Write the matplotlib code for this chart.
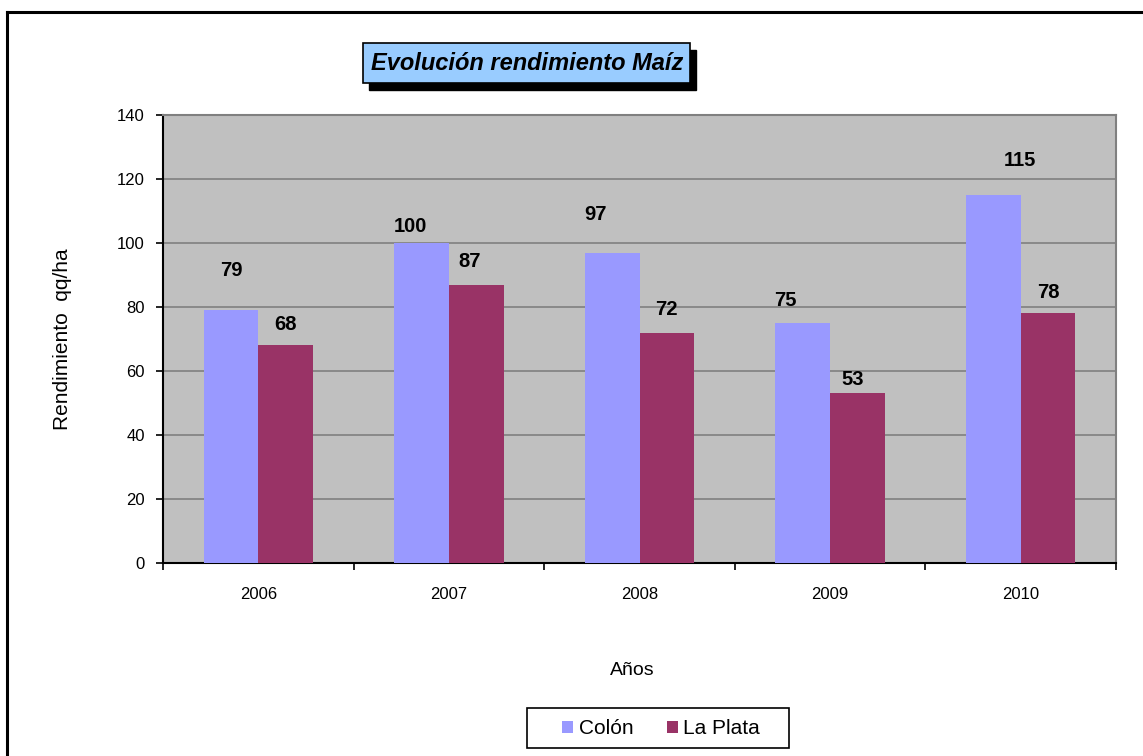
"""Evolución rendimiento Maíz - Colón vs La Plata"""

import numpy as np
import matplotlib
matplotlib.use("Agg")
import matplotlib.pyplot as plt
from matplotlib.patches import Rectangle
from matplotlib.lines import Line2D

# Data
years = ["2006", "2007", "2008", "2009", "2010"]
colon = [79, 100, 97, 75, 115]
la_plata = [68, 87, 72, 53, 78]

# Label offsets (pixels) as placed in the original chart
colon_lbl = [(0, 40), (-11, 17), (-17, 38), (-17, 23), (27, 34)]
plata_lbl = [(0, 21), (-7, 23), (0, 23), (-5, 14), (0, 21)]

plt.rcParams["font.family"] = ["Liberation Sans", "DejaVu Sans"]

W, H = 1143, 756
fig = plt.figure(figsize=(W / 100, H / 100), dpi=100)
fig.patch.set_facecolor("white")

# outer frame (goes off the right / bottom edge)
fig.add_artist(Line2D([7 / W, 7 / W], [-0.1, 1 - 12 / H], color="black", lw=2.2))
fig.add_artist(Line2D([7 / W, 1.1], [1 - 12 / H, 1 - 12 / H], color="black", lw=2.2))

ax = fig.add_axes([163 / W, 1 - 563 / H, (1116 - 163) / W, (563 - 115) / H])
ax.set_facecolor("#C0C0C0")

x = np.arange(len(years))
bw = 0.287
b1 = ax.bar(x - bw / 2, colon, bw, color="#9999FF", label="Colón", zorder=3)
b2 = ax.bar(x + bw / 2, la_plata, bw, color="#993366", label="La Plata", zorder=3)

px = 0.72  # points per pixel
for bars, vals, offs in ((b1, colon, colon_lbl), (b2, la_plata, plata_lbl)):
    for r, v, (dx, dy) in zip(bars, vals, offs):
        ax.annotate(str(v), (r.get_x() + r.get_width() / 2, v),
                    xytext=(dx * px, dy * px), textcoords="offset points",
                    ha="center", va="center", fontsize=14.5, fontweight="bold",
                    zorder=5)

ax.set_ylim(0, 140)
ax.set_xlim(-0.5, len(years) - 0.5)
ax.set_yticks(range(0, 141, 20))
ax.yaxis.grid(True, color="#808080", lw=1.2, zorder=1)

# category boundaries as ticks, labels in the middle
ax.set_xticks(np.arange(-0.5, len(years), 1.0))
ax.set_xticklabels([])
ax.set_xticks(x, minor=True)
ax.set_xticklabels(years, minor=True)
ax.tick_params(axis="x", which="major", direction="out", length=5, width=1.2)
ax.tick_params(axis="x", which="minor", length=0, pad=17, labelsize=12)
ax.tick_params(axis="y", direction="out", length=5, width=1.2, pad=8, labelsize=12)

for s in ("left", "bottom"):
    ax.spines[s].set_color("black")
    ax.spines[s].set_linewidth(1.5)
for s in ("top", "right"):
    ax.spines[s].set_color("#808080")
    ax.spines[s].set_linewidth(1.5)

ax.set_ylabel("Rendimiento  qq/ha", fontsize=15)
ax.yaxis.set_label_coords((72 - 163) / 953, 0.5)
ax.set_xlabel("Años", fontsize=14)
ax.xaxis.set_label_coords((632 - 163) / 953, -(662 - 563) / 448)

# title box with drop shadow
fig.add_artist(Rectangle((369 / W, 1 - 90 / H), (690 - 363) / W, 40 / H,
                         transform=fig.transFigure, fc="black", ec="black", lw=1))
fig.add_artist(Rectangle((363 / W, 1 - 83 / H), (690 - 363) / W, 40 / H,
                         transform=fig.transFigure, fc="#99CCFF", ec="black", lw=1.2))
fig.text(527 / W, 1 - 64 / H, "Evolución rendimiento Maíz", ha="center", va="center",
         fontsize=17, fontweight="bold", fontstyle="italic")

# legend: box drawn separately, entries centred inside it
fig.add_artist(Rectangle((527 / W, 1 - 748 / H), (789 - 527) / W, 40 / H,
                         transform=fig.transFigure, fc="white", ec="black", lw=1.2))
leg = fig.legend(handles=[b1, b2], loc="center", bbox_to_anchor=(661 / W, 1 - 729 / H),
                 ncol=2, fontsize=15, frameon=False,
                 handlelength=0.55, handleheight=0.55, handletextpad=0.25,
                 columnspacing=1.6, borderpad=0, borderaxespad=0)

fig.savefig("out.png", dpi=100)
